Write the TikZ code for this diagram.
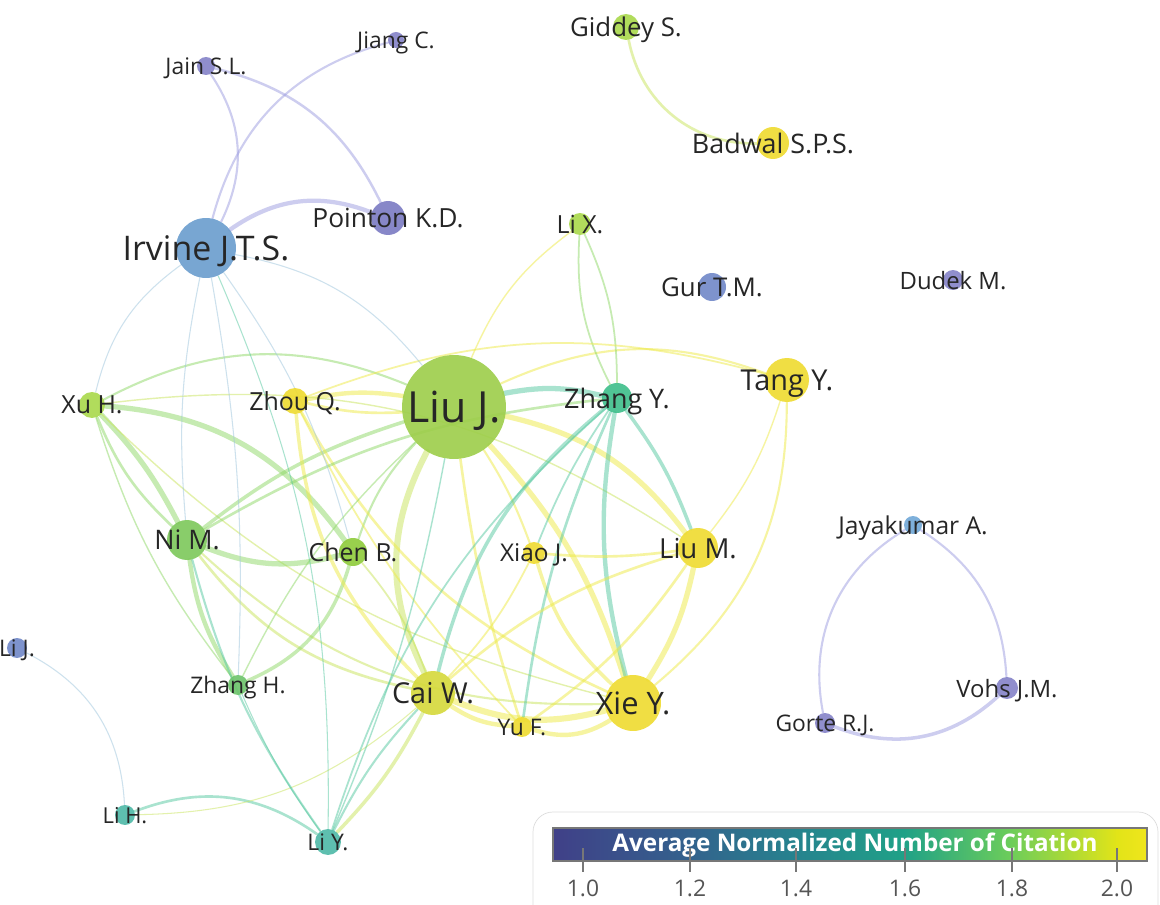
\documentclass[tikz,border=0pt]{standalone}
\usepackage{fontspec}
\setmainfont{Open Sans}
\usetikzlibrary{backgrounds}
\definecolor{InkText}{HTML}{262626}
\definecolor{NodePurple}{HTML}{8482C8}
\definecolor{NodeDeepPurple}{HTML}{7B7AC3}
\definecolor{NodeBlue}{HTML}{7088C8}
\definecolor{NodeSteel}{HTML}{6A9DCE}
\definecolor{NodeSky}{HTML}{70A8D8}
\definecolor{NodeLime}{HTML}{A9D94B}
\definecolor{NodeYellow}{HTML}{EFDB2F}
\definecolor{NodeOlive}{HTML}{D5D93A}
\definecolor{NodeLeaf}{HTML}{9DCE4A}
\definecolor{NodeMint}{HTML}{3DBE8A}
\definecolor{NodeGreen}{HTML}{7DC85A}
\definecolor{NodeGrass}{HTML}{8FCB3A}
\definecolor{NodeFern}{HTML}{6CC46A}
\definecolor{NodeTeal}{HTML}{4DB9A7}
\definecolor{EdgeYellow}{HTML}{EEEA45}
\definecolor{EdgeLime}{HTML}{C9E45A}
\definecolor{EdgeGreen}{HTML}{8ED866}
\definecolor{EdgeTeal}{HTML}{55C8A0}
\definecolor{EdgeSky}{HTML}{9CC4DC}
\definecolor{EdgePurple}{HTML}{9C9CE0}
\definecolor{FrameGray}{HTML}{DDDDDD}
\definecolor{TickGray}{HTML}{777777}
\definecolor{NumGray}{HTML}{555555}
\definecolor{BarA}{HTML}{404088}
\definecolor{BarB}{HTML}{33628D}
\definecolor{BarC}{HTML}{26838E}
\definecolor{BarD}{HTML}{1FA187}
\definecolor{BarE}{HTML}{6CCD5A}
\definecolor{BarF}{HTML}{E2E418}
\definecolor{BarG}{HTML}{F0E51C}
\pgfdeclarehorizontalshading{citebar}{100bp}{color(0bp)=(BarA); color(25bp)=(BarA); color(36.5bp)=(BarB); color(45.5bp)=(BarC); color(54.5bp)=(BarD); color(63.5bp)=(BarE); color(72.5bp)=(BarF); color(75bp)=(BarG); color(100bp)=(BarG)}

\begin{document}
\begin{tikzpicture}[x=0.02cm,y=0.02cm,
    au/.style={circle,inner sep=0pt,minimum size=#1*0.04cm,fill opacity=0.9},
    lab/.style={font=\fontsize{#1}{#1}\selectfont,text=InkText,text opacity=1,
      inner sep=0pt,text depth=0pt,fill=none,draw=none},
    lnk/.style={draw opacity=0.5,line cap=round,line width=#1},
    lnk/.default=1pt]
  \useasboundingbox (0,0) rectangle (1160,-905);
  \clip (0,0) rectangle (1160,-905);

  % authors
  \node[au=8,fill=NodePurple,label={[lab=13]center:Jiang C.}] (jiang) at (396,-40) {};
  \node[au=9,fill=NodePurple,label={[lab=13]center:Jain S.L.}] (jain) at (206,-66) {};
  \node[au=17,fill=NodeDeepPurple,label={[lab=15]center:Pointon K.D.}] (pointon) at (388,-218) {};
  \node[au=30,fill=NodeSteel,label={[lab=19.3]center:Irvine J.T.S.}] (irvine) at (206,-248) {};
  \node[au=13,fill=NodeLime,label={[lab=14.7]center:Giddey S.}] (giddey) at (626,-27) {};
  \node[au=16,fill=NodeYellow,label={[lab=15.3]center:Badwal S.P.S.}] (badwal) at (773,-143) {};
  \node[au=11,fill=NodeLime,label={[lab=14.2]center:Li X.}] (lix) at (580,-224) {};
  \node[au=14,fill=NodeBlue,label={[lab=14.7]center:Gur T.M.}] (gur) at (712,-287) {};
  \node[au=10,fill=NodePurple,label={[lab=13.6]center:Dudek M.}] (dudek) at (953,-280) {};
  \node[au=52,fill=NodeLeaf,label={[lab=24.4]center:Liu J.}] (liuj) at (454,-407) {};
  \node[au=15,fill=NodeMint,label={[lab=15.3]center:Zhang Y.}] (zhangy) at (617,-398) {};
  \node[au=22,fill=NodeYellow,label={[lab=16.4]center:Tang Y.}] (tang) at (787,-380) {};
  \node[au=13,fill=NodeLime,label={[lab=14.2]center:Xu H.}] (xuh) at (92,-405) {};
  \node[au=13,fill=NodeYellow,label={[lab=14.2]center:Zhou Q.}] (zhouq) at (295,-401) {};
  \node[au=20,fill=NodeGreen,label={[lab=15.3]center:Ni M.}] (nim) at (187,-540) {};
  \node[au=14,fill=NodeGrass,label={[lab=14.2]center:Chen B.}] (chenb) at (353,-552) {};
  \node[au=11,fill=NodeYellow,label={[lab=13.9]center:Xiao J.}] (xiaoj) at (534,-553) {};
  \node[au=20,fill=NodeYellow,label={[lab=15.7]center:Liu M.}] (lium) at (698,-548) {};
  \node[au=9,fill=NodeSky,label={[lab=14]center:Jayakumar A.}] (jaya) at (913,-525) {};
  \node[au=10,fill=NodeFern,label={[lab=13]center:Zhang H.}] (zhangh) at (238,-685) {};
  \node[au=22,fill=NodeOlive,label={[lab=16.4]center:Cai W.}] (caiw) at (433,-693) {};
  \node[au=10,fill=NodeYellow,label={[lab=13]center:Yu F.}] (yuf) at (522,-727) {};
  \node[au=28,fill=NodeYellow,label={[lab=17.6]center:Xie Y.}] (xiey) at (633,-703) {};
  \node[au=11,fill=NodePurple,label={[lab=13.6]center:Vohs J.M.}] (vohs) at (1007,-688) {};
  \node[au=10,fill=NodePurple,label={[lab=13]center:Gorte R.J.}] (gorte) at (825,-723) {};
  \node[au=10,fill=NodeBlue,label={[lab=13]center:Li J.}] (lij) at (17,-648) {};
  \node[au=10,fill=NodeTeal,label={[lab=12.5]center:Li H.}] (lih) at (125,-815) {};
  \node[au=13,fill=NodeTeal,label={[lab=13]center:Li Y.}] (liy) at (328,-842) {};

  % links
  \begin{scope}[on background layer]
    \fill[white] (0,0) rectangle (1160,-905);
    \draw[lnk=1.2pt,EdgePurple] (irvine) to[bend right=30] (jain);
    \draw[lnk=1.2pt,EdgePurple] (irvine) to[bend left=30] (jiang);
    \draw[lnk=1.4pt,EdgePurple] (jain) to[bend left=25] (pointon);
    \draw[lnk=2.4pt,EdgePurple] (irvine) to[bend left=28] (pointon);
    \draw[lnk=1.5pt,EdgeLime] (giddey) to[bend right=40] (badwal);
    \draw[lnk=1.2pt,EdgePurple] (jaya) to[bend right=35] (gorte);
    \draw[lnk=1.2pt,EdgePurple] (jaya) to[bend left=27] (vohs);
    \draw[lnk=2pt,EdgePurple] (gorte) to[bend right=32] (vohs);
    \draw[lnk=0.6pt,EdgeSky] (lij) to[bend left=30] (lih);
    \draw[lnk=1.5pt,EdgeTeal] (lih) to[bend left=28] (liy);
    \draw[lnk=0.6pt,EdgeLime] (lih) to[bend right=20] (caiw);
    \draw[lnk=3.5pt,EdgeLime] (liuj) to[bend right=27] (caiw);
    \draw[lnk=3pt,EdgeYellow] (liuj) to[bend left=12] (xiey);
    \draw[lnk=3pt,EdgeYellow] (liuj) to[bend left=20] (lium);
    \draw[lnk=3pt,EdgeTeal] (liuj) to[bend left=12] (zhangy);
    \draw[lnk=1.2pt,EdgeYellow] (liuj) to[bend left=22] (tang);
    \draw[lnk=2.5pt,EdgeYellow] (liuj) to[bend right=10] (zhouq);
    \draw[lnk=1.5pt,EdgeYellow] (liuj) to[bend left=8] (zhouq);
    \draw[lnk=1.2pt,EdgeGreen] (liuj) to[bend right=25] (xuh);
    \draw[lnk=1.5pt,EdgeYellow] (liuj) to[bend right=5] (yuf);
    \draw[lnk=1.2pt,EdgeYellow] (liuj) to[bend left=6] (xiaoj);
    \draw[lnk=3pt,EdgeGreen] (xuh) to[bend left=25] (chenb);
    \draw[lnk=3pt,EdgeGreen] (xuh) to[bend left=8] (nim);
    \draw[lnk=1.5pt,EdgeGreen] (xuh) to[bend right=12] (nim);
    \draw[lnk=0.8pt,EdgeGreen] (xuh) to[bend right=10] (zhangh);
    \draw[lnk=0.8pt,EdgeLime] (xuh) to[bend left=20] (lium);
    \draw[lnk=0.8pt,EdgeLime] (xuh) to[bend right=15] (xiey);
    \draw[lnk=3pt,EdgeGreen] (nim) to[bend right=18] (chenb);
    \draw[lnk=2.5pt,EdgeGreen] (nim) to[bend right=12] (zhangh);
    \draw[lnk=2pt,EdgeGreen] (nim) to[bend left=10] (liuj);
    \draw[lnk=1.5pt,EdgeLime] (nim) to[bend right=20] (caiw);
    \draw[lnk=1.2pt,EdgeLime] (nim) to[bend right=22] (xiey);
    \draw[lnk=1.2pt,EdgeGreen] (chenb) to[bend left=12] (liuj);
    \draw[lnk=2pt,EdgeGreen] (chenb) to[bend left=25] (zhangh);
    \draw[lnk=1pt,EdgeLime] (chenb) to[bend left=10] (caiw);
    \draw[lnk=2pt,EdgeYellow] (zhouq) to[bend right=20] (caiw);
    \draw[lnk=1.5pt,EdgeYellow] (zhouq) to[bend right=18] (xiey);
    \draw[lnk=1pt,EdgeYellow] (zhouq) to[bend right=8] (yuf);
    \draw[lnk=3.5pt,EdgeYellow] (caiw) to[bend right=18] (xiey);
    \draw[lnk=2.5pt,EdgeYellow] (caiw) to[bend right=15] (yuf);
    \draw[lnk=2.5pt,EdgeYellow] (yuf) to[bend right=25] (xiey);
    \draw[lnk=3pt,EdgeYellow] (xiey) to[bend right=10] (lium);
    \draw[lnk=1.2pt,EdgeYellow] (xiey) to[bend right=25] (tang);
    \draw[lnk=2.5pt,EdgeTeal] (xiey) to[bend left=12] (zhangy);
    \draw[lnk=2pt,EdgeYellow] (xiey) to[bend left=15] (xiaoj);
    \draw[lnk=2pt,EdgeTeal] (zhangy) to[bend right=18] (caiw);
    \draw[lnk=1.5pt,EdgeTeal] (zhangy) to[bend right=8] (yuf);
    \draw[lnk=1pt,EdgeGreen] (zhangy) to[bend left=15] (lix);
    \draw[lnk=1pt,EdgeGreen] (zhangy) to[bend right=12] (lix);
    \draw[lnk=2pt,EdgeTeal] (zhangy) to[bend left=8] (lium);
    \draw[lnk=1pt,EdgeTeal] (zhangy) to[bend right=15] (liy);
    \draw[lnk=1.5pt,EdgeGreen] (zhangy) to[bend right=12] (nim);
    \draw[lnk=1pt,EdgeTeal] (zhangy) to[bend right=6] (xiaoj);
    \draw[lnk=0.8pt,EdgeYellow] (tang) to[bend left=10] (lium);
    \draw[lnk=1pt,EdgeYellow] (tang) to[bend right=18] (zhouq);
    \draw[lnk=0.8pt,EdgeYellow] (lix) to[bend right=15] (liuj);
    \draw[lnk=1.5pt,EdgeYellow] (lium) to[bend left=6] (xiaoj);
    \draw[lnk=1.5pt,EdgeYellow] (lium) to[bend right=12] (caiw);
    \draw[lnk=1.5pt,EdgeYellow] (lium) to[bend left=10] (yuf);
    \draw[lnk=1pt,EdgeYellow] (xiaoj) to[bend left=8] (caiw);
    \draw[lnk=0.6pt,EdgeSky] (irvine) to[bend right=20] (xuh);
    \draw[lnk=0.6pt,EdgeSky] (irvine) to[bend right=8] (nim);
    \draw[lnk=0.6pt,EdgeSky] (irvine) to[bend left=6] (zhangh);
    \draw[lnk=0.6pt,EdgeTeal] (irvine) to[bend left=12] (liy);
    \draw[lnk=0.6pt,EdgeSky] (irvine) to[bend left=10] (chenb);
    \draw[lnk=0.6pt,EdgeSky] (irvine) to[bend left=20] (liuj);
    \draw[lnk=2pt,EdgeLime] (liy) to[bend right=8] (caiw);
    \draw[lnk=1.2pt,EdgeTeal] (liy) to[bend left=8] (caiw);
    \draw[lnk=0.8pt,EdgeTeal] (liy) to[bend right=6] (liuj);
    \draw[lnk=0.6pt,EdgeTeal] (liy) to[bend left=6] (zhangh);
    \draw[lnk=1.2pt,EdgeTeal] (liy) to[bend left=10] (nim);
    \draw[lnk=0.8pt,EdgeGreen] (zhangh) to[bend left=10] (liuj);
  \end{scope}

  % colour scale
  \draw[FrameGray,fill=white,rounded corners=0.4cm] (533,-812) rectangle (1158,-930);
  \shade[shading=citebar,draw=TickGray,line width=0.6pt] (553,-828) rectangle (1147,-861);
  \node[font=\bfseries\fontsize{13.8}{13.8}\selectfont,text=white,inner sep=0pt] (bartitle) at (855,-845)
    {Average Normalized Number of Citation};
  \draw[TickGray,line width=0.85pt] (583,-848) -- (583,-872);
  \draw[TickGray,line width=0.85pt] (690,-848) -- (690,-872);
  \draw[TickGray,line width=0.85pt] (796,-848) -- (796,-872);
  \draw[TickGray,line width=0.85pt] (905,-848) -- (905,-872);
  \draw[TickGray,line width=0.85pt] (1012,-848) -- (1012,-872);
  \draw[TickGray,line width=0.85pt] (1117,-848) -- (1117,-872);
  \node[lab=13,text=NumGray] (t10) at (583,-888) {1.0};
  \node[lab=13,text=NumGray] (t12) at (690,-888) {1.2};
  \node[lab=13,text=NumGray] (t14) at (796,-888) {1.4};
  \node[lab=13,text=NumGray] (t16) at (905,-888) {1.6};
  \node[lab=13,text=NumGray] (t18) at (1012,-888) {1.8};
  \node[lab=13,text=NumGray] (t20) at (1117,-888) {2.0};
\end{tikzpicture}
\end{document}
